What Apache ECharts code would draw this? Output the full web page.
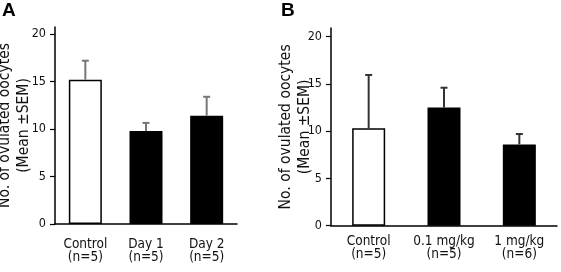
<!DOCTYPE html>
<html>
<head>
<meta charset="utf-8">
<script src="https://cdn.jsdelivr.net/npm/echarts@6/dist/echarts.min.js"></script>
<style>
  html, body { margin: 0; padding: 0; background: #fff; }
  #main { width: 561px; height: 272px; }
</style>
</head>
<body>
<div id="main"></div>
<script>
// panel A: time after treatment
const catsA = ['Control\n(n=5)', 'Day 1\n(n=5)', 'Day 2\n(n=5)'];
const meanA = [15.2, 9.8, 11.4];
const semA = [2.0, 0.85, 2.0];
// panel B: dose
const catsB = ['Control\n(n=5)', '0.1 mg/kg\n(n=5)', '1 mg/kg\n(n=6)'];
const meanB = [10.3, 12.5, 8.6];
const semB = [5.65, 2.1, 1.1];
const yTicks = [0, 5, 10, 15, 20];

const FONT = 'DejaVu Sans Condensed, DejaVu Sans, sans-serif';
const yName = 'No. of ovulated oocytes\n(Mean \u00b1SEM)';

var chartDom = document.getElementById('main');
var myChart = echarts.init(chartDom, null, { renderer: 'canvas' });

function errData(mean, sem) {
    return mean.map((m, i) => [i, m, m + sem[i]]);
}

function errSeries(idx, mean, sem, color) {
    return {
        type: 'custom',
        xAxisIndex: idx,
        yAxisIndex: idx,
        z: 3,
        data: errData(mean, sem),
        renderItem: function (params, api) {
            let base = api.coord([api.value(0), api.value(1)]);
            let top = api.coord([api.value(0), api.value(2)]);
            let st = { stroke: color, lineWidth: 2 };
            return {
                type: 'group',
                children: [
                    { type: 'line', shape: { x1: base[0], y1: base[1], x2: top[0], y2: top[1] }, style: st },
                    { type: 'line', shape: { x1: top[0] - 3.5, y1: top[1], x2: top[0] + 3.5, y2: top[1] }, style: st }
                ]
            };
        }
    };
}

function xAxis(idx, cats, margin) {
    return {
        type: 'category',
        gridIndex: idx,
        data: cats,
        axisLine: { lineStyle: { color: '#000', width: 1.5 } },
        axisTick: { show: false },
        axisLabel: {
            color: '#111', fontFamily: FONT, fontSize: 13.5,
            lineHeight: 13, margin: margin, interval: 0
        }
    };
}

function yAxis(idx, max, nameGap) {
    return {
        type: 'value',
        gridIndex: idx,
        min: 0,
        max: max,
        interval: 5,
        name: yName,
        nameLocation: 'middle',
        nameGap: nameGap,
        nameMoveOverlap: false,
        nameTextStyle: { color: '#111', fontFamily: FONT, fontSize: 15.5, lineHeight: 19 },
        splitLine: { show: false },
        axisLine: { show: true, lineStyle: { color: '#000', width: 1.5 } },
        axisTick: { show: true, length: 5, lineStyle: { color: '#000', width: 1.2 }, customValues: yTicks },
        axisLabel: { color: '#111', fontFamily: FONT, fontSize: 12.5, margin: 9, customValues: yTicks }
    };
}

function barSeries(idx, mean) {
    return {
        type: 'bar',
        xAxisIndex: idx,
        yAxisIndex: idx,
        barWidth: 33,
        z: 2,
        data: mean,
        itemStyle: {
            color: p => p.dataIndex === 0 ? '#fff' : '#000',
            borderColor: '#000',
            borderWidth: 1.5
        }
    };
}

var option = {
    animation: false,
    backgroundColor: '#fff',
    title: [
        { text: 'A', left: 2, top: 1, padding: 0, textStyle: { fontFamily: 'Liberation Sans', fontWeight: 'bold', fontSize: 19, color: '#000' } },
        { text: 'B', left: 281, top: 1, padding: 0, textStyle: { fontFamily: 'Liberation Sans', fontWeight: 'bold', fontSize: 19, color: '#000' } }
    ],
    grid: [
        { left: 55, top: 27, width: 182, height: 197, outerBoundsMode: 'none', containLabel: false },
        { left: 331, top: 28, width: 226, height: 197.7, outerBoundsMode: 'none', containLabel: false }
    ],
    xAxis: [xAxis(0, catsA, 14), xAxis(1, catsB, 9)],
    yAxis: [yAxis(0, 20.75, 22), yAxis(1, 20.92, 17)],
    series: [
        barSeries(0, meanA),
        errSeries(0, meanA, semA, '#777'),
        barSeries(1, meanB),
        errSeries(1, meanB, semB, '#333')
    ]
};

option && myChart.setOption(option);
</script>
</body>
</html>
